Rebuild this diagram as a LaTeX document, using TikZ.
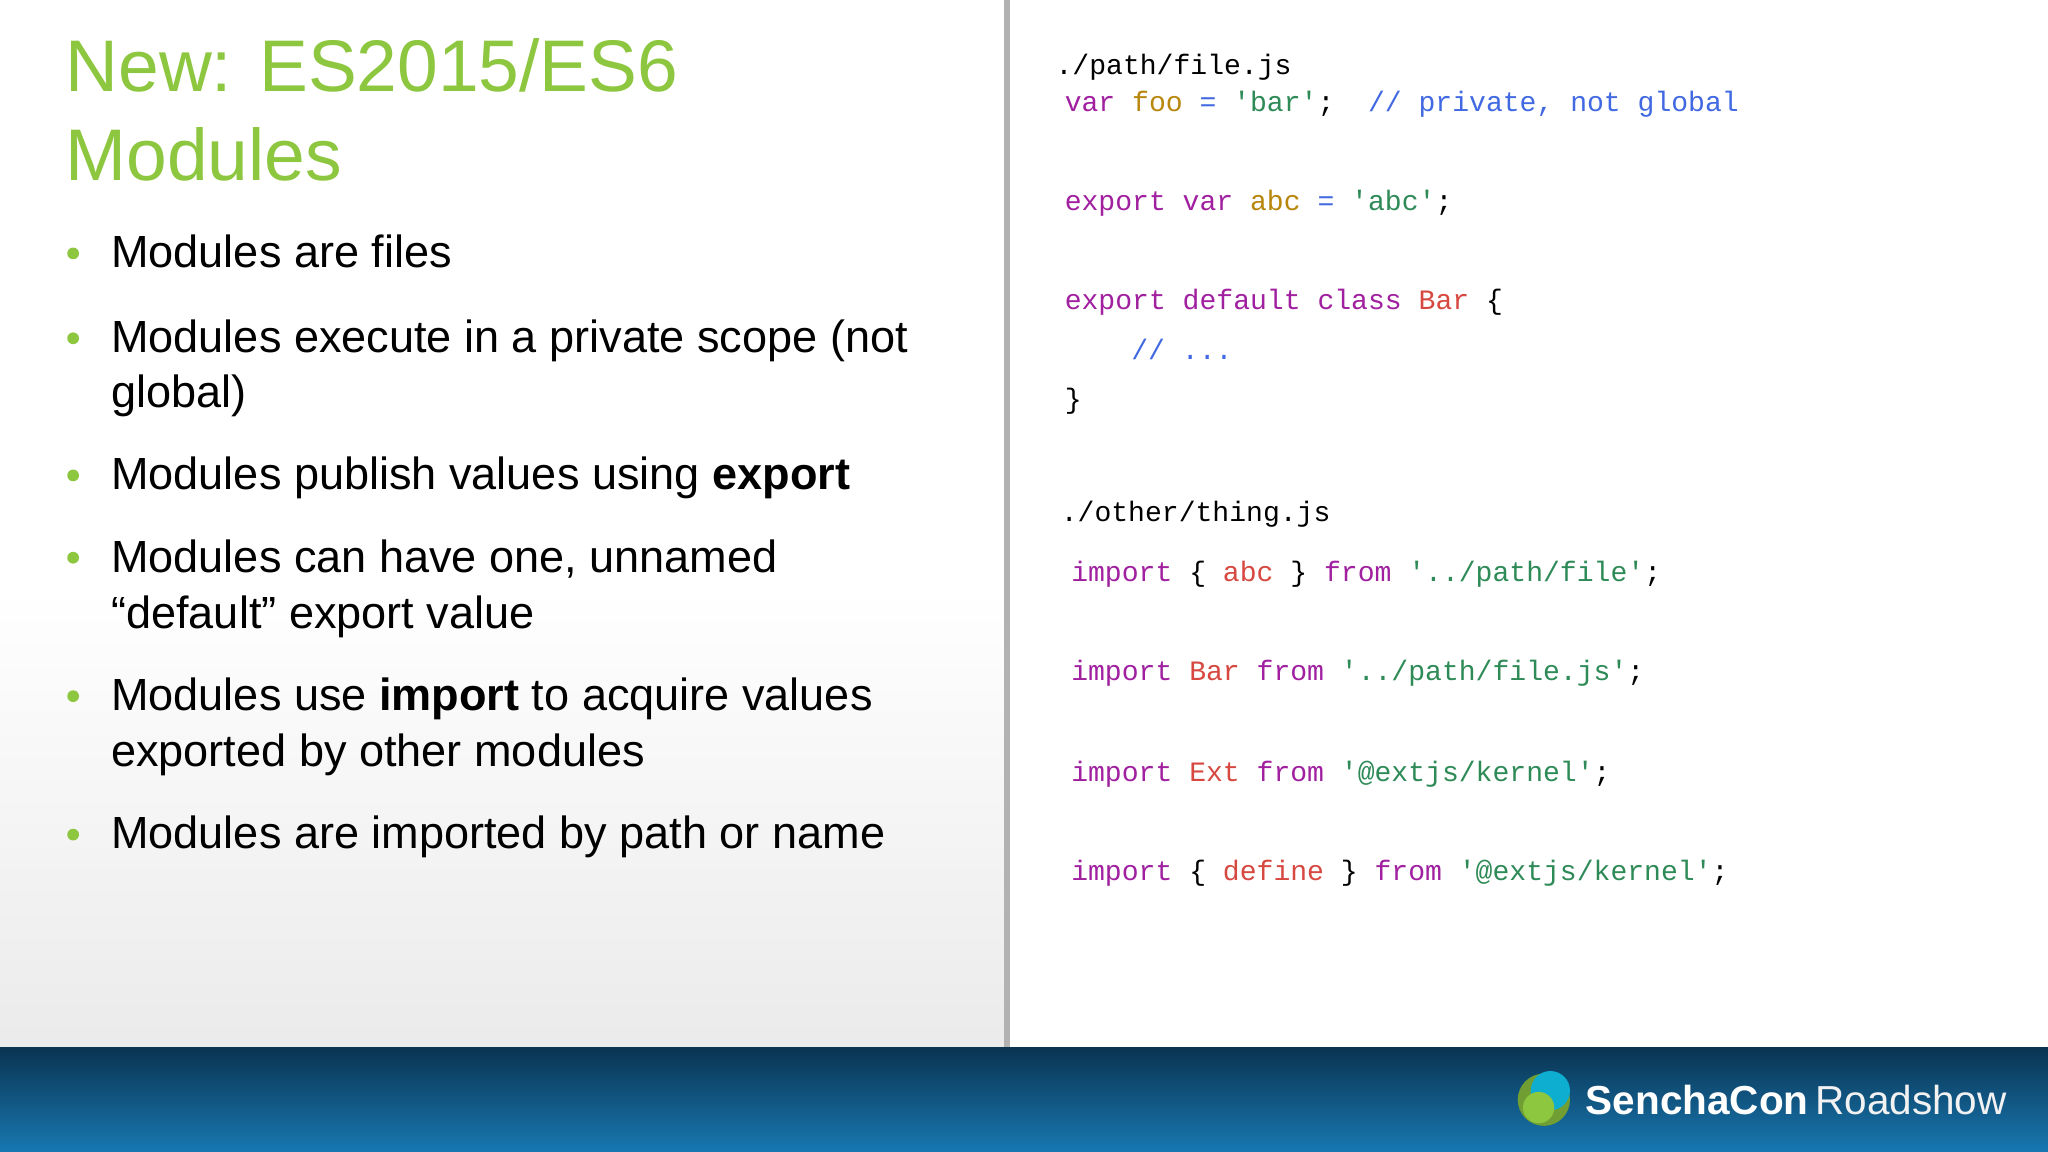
\documentclass[tikz,border=0pt]{standalone}
\usepackage{fontspec}
\setmainfont{Liberation Sans}
\setmonofont{Liberation Mono}
\definecolor{sgreen}{RGB}{141,198,63}
\definecolor{kw}{RGB}{160,32,160}
\definecolor{vr}{RGB}{184,134,11}
\definecolor{st}{RGB}{46,139,87}
\definecolor{cm}{RGB}{65,105,225}
\definecolor{cl}{RGB}{214,72,64}
\definecolor{bartop}{RGB}{10,52,82}
\definecolor{barbot}{RGB}{24,120,178}
\newcommand{\K}[1]{\textcolor{kw}{#1}}
\newcommand{\V}[1]{\textcolor{vr}{#1}}
\newcommand{\St}[1]{\textcolor{st}{#1}}
\newcommand{\Cm}[1]{\textcolor{cm}{#1}}
\newcommand{\Cl}[1]{\textcolor{cl}{#1}}
\begin{document}
\begin{tikzpicture}[x=1pt,y=-1pt,
  title/.style={anchor=base west,inner sep=0,text=sgreen,font=\fontsize{56}{60}\selectfont},
  btext/.style={anchor=base west,inner sep=0,font=\fontsize{34.5}{40}\selectfont},
  code/.style={anchor=base west,inner sep=0,font=\ttfamily\fontsize{21.5}{24}\selectfont}]
\useasboundingbox (0,0) rectangle (1568,882);
\fill[white] (0,0) rectangle (770,802);
\shade[top color=white,bottom color=black!8] (0,450) rectangle (770,802);
\fill[white] (772,0) rectangle (1568,802);
\fill[black!30] (769,0) rectangle (773,802);
\shade[top color=bartop,bottom color=barbot] (0,802) rectangle (1568,882);
% title
\node[title] (t1) at (50,70) {New: ES2015/ES6};
\node[title] (t2) at (50,138) {Modules};
% bullets
\foreach \y in {205,270,375,438,544,650}{\fill[sgreen] (56,\y-11) circle (4.5);}
\node[btext] (b1) at (85,205) {Modules are files};
\node[btext] (b2) at (85,270) {Modules execute in a private scope (not};
\node[btext] (b2b) at (85,312) {global)};
\node[btext] (b3) at (85,375) {Modules publish values using \textbf{export}};
\node[btext] (b4) at (85,438) {Modules can have one, unnamed};
\node[btext] (b4b) at (85,481) {“default” export value};
\node[btext] (b5) at (85,544) {Modules use \textbf{import} to acquire values};
\node[btext] (b5b) at (85,587) {exported by other modules};
\node[btext] (b6) at (85,650) {Modules are imported by path or name};
% code
\node[code] (c0) at (808,57) {./path/file.js};
\node[code] (c1) at (815,85) {\K{var} \V{foo} \Cm{=} \St{'bar'};\ \ \Cm{// private, not global}};
\node[code] (c2) at (815,161) {\K{export} \K{var} \V{abc} \Cm{=} \St{'abc'};};
\node[code] (c3) at (815,237) {\K{export} \K{default} \K{class} \Cl{Bar} \{};
\node[code] (c4) at (866,275) {\Cm{// ...}};
\node[code] (c5) at (815,313) {\}};
\node[code] (c6) at (812,399) {./other/thing.js};
\node[code] (c7) at (820,445) {\K{import} \{ \Cl{abc} \} \K{from} \St{'../path/file'};};
\node[code] (c8) at (820,521) {\K{import} \Cl{Bar} \K{from} \St{'../path/file.js'};};
\node[code] (c9) at (820,598) {\K{import} \Cl{Ext} \K{from} \St{'@extjs/kernel'};};
\node[code] (c10) at (820,674) {\K{import} \{ \Cl{define} \} \K{from} \St{'@extjs/kernel'};};
% logo
\fill[sgreen!80!black] (1182,842) circle (20);
\fill[barbot!60!cyan] (1187,835) circle (15);
\fill[sgreen] (1178,848) circle (12);
\node[anchor=base west,inner sep=0,text=white,font=\fontsize{31}{36}\selectfont] (logo) at (1214,853) {\textbf{SenchaCon}\,\textcolor{white!90!gray}{Roadshow}};
\end{tikzpicture}
\end{document}
